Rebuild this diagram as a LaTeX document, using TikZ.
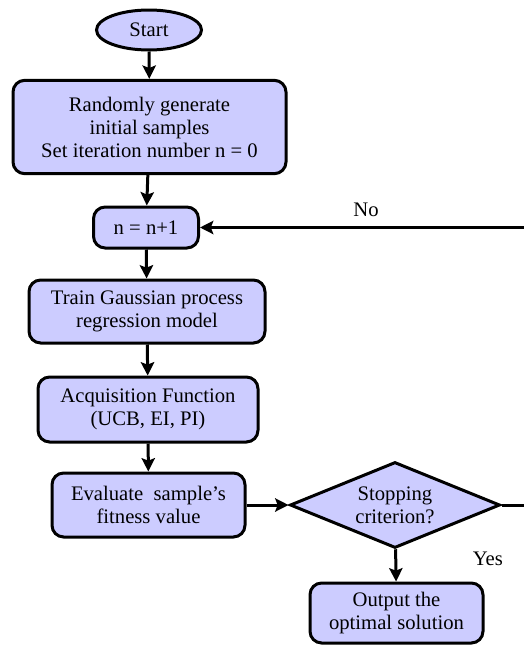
\documentclass[tikz,border=0pt]{standalone}
\usepackage{fontspec}
\setmainfont{Liberation Serif}
\usetikzlibrary{shapes.geometric,arrows.meta}
\tikzset{%
  box/.style={draw, line width=1.8pt, rounded corners=7pt, fill=blue!20,
    align=center, inner sep=0pt},
  startnode/.style={draw, line width=1.8pt, ellipse, fill=blue!20, inner sep=0pt,
    minimum width=63pt, minimum height=24pt},
  decision/.style={draw, line width=1.8pt, diamond, fill=blue!20, align=center,
    inner sep=0pt, aspect=2.4, minimum width=126pt, minimum height=51.6pt},
  arrow/.style={line width=1.8pt, -{Stealth[length=8pt,width=8pt,inset=1.5pt]}}
}

\begin{document}
\begin{tikzpicture}[x=0.6pt, y=-0.6pt, font=\fontsize{12.4}{13.8}\selectfont]

          \useasboundingbox (0,0) rectangle (524,645);
          \clip (0,0) rectangle (524,645);

          \node[startnode] (start) at (149, 30) {Start};
          \node[box, minimum width=163.8pt, minimum height=56pt] (init) at (149.5, 127)
            {Randomly generate\\initial samples\\Set iteration number n = 0};
          \node[box, minimum width=63pt, minimum height=24.6pt] (incr) at (146, 227.5) {n = n+1};
          \node[box, minimum width=141.6pt, minimum height=37.8pt] (train) at (147, 311.5)
            {Train Gaussian process\\regression model};
          \node[box, minimum width=132pt, minimum height=39pt] (acq) at (148, 409.5)
            {Acquisition Function\\(UCB, EI, PI)};
          \node[box, minimum width=115.8pt, minimum height=38.4pt] (eval) at (148.5, 505)
            {Evaluate\ \ sample's\\fitness value};
          \node[decision] (check) at (395, 505) {Stopping\\criterion?};
          \node[box, minimum width=103.8pt, minimum height=36pt] (output) at (396.5, 613)
            {Output the\\optimal solution};

          \coordinate (loopcorner) at (532, 505);

          \draw[arrow] (start) -- (init);
          \draw[arrow] (init) -- (incr);
          \draw[arrow] (incr) -- (train);
          \draw[arrow] (train) -- (acq);
          \draw[arrow] (acq) -- (eval);
          \draw[arrow] (eval) -- (check);
          \draw[arrow] (check) -- (output) node[pos=0.3, right, xshift=42pt] {Yes};
          \draw[arrow] (check.east) -- (loopcorner) |- (incr.east)
            node[pos=0.75, above, yshift=2pt] {No};
        \end{tikzpicture}
\end{document}
